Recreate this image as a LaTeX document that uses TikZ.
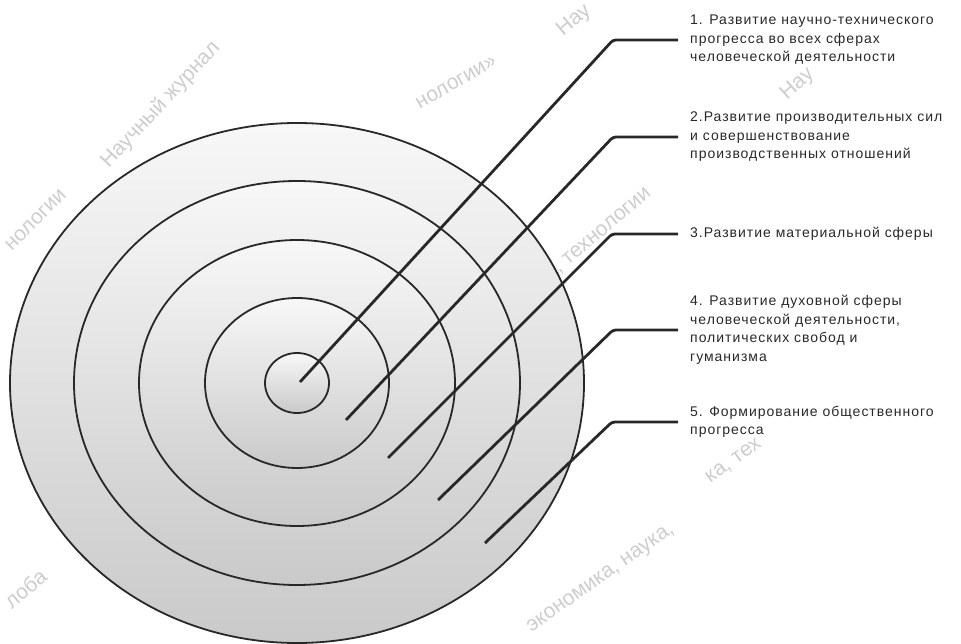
\documentclass[tikz,border=0pt]{standalone}
\usepackage{fontspec}
\setmainfont{Liberation Sans}
\usepackage{tikz}
\usetikzlibrary{positioning, calc}
\definecolor{ringline}{RGB}{40,40,40}
\definecolor{stagegrey}{RGB}{40,40,40}
\definecolor{markgrey}{RGB}{205,205,205}

\begin{document}
\begin{tikzpicture}[x=1pt, y=-1pt,
    ringfill/.style={draw=ringline, line width=1.8pt,
        top color=gray!6, bottom color=gray!42},
    leadline/.style={draw=ringline, line width=2.8pt, rounded corners=3pt},
    stagetext/.style={anchor=west, align=left, inner xsep=12pt,
        inner ysep=0pt, text=stagegrey,
        font=\fontsize{14}{18.5}\selectfont\addfontfeature{LetterSpace=7}},
    wmark/.style={anchor=south west, inner sep=0pt, text=markgrey,
        font=\fontsize{21}{21}\selectfont}]
    \useasboundingbox (0,0) rectangle (961,644);
    % watermark
    \node[wmark, rotate=47] (wm1) at (112,172) {Научный журнал};
    \node[wmark, rotate=40] (wm2) at (566,40) {Нау};
    \node[wmark, rotate=30] (wm3) at (420,110) {нологии»};
    \node[wmark, rotate=45] (wm4) at (12,252) {нологии};
    \node[wmark, rotate=42] (wm5) at (790,104) {Нау};
    \node[wmark, rotate=40] (wm6) at (520,312) {наука, технологии};
    \node[wmark, rotate=36] (wm7) at (712,486) {ка, тех};
    \node[wmark, rotate=35] (wm8) at (534,636) {экономика, наука,};
    \node[wmark, rotate=40] (wm9) at (12,610) {лоба};
    % rings
    \coordinate (C) at (297,383);
    \foreach \rx/\ry in {287/260, 223/202, 158/143, 92/85, 32/30}
        \path[ringfill] (C) ellipse [x radius=\rx, y radius=\ry];
    % ends and elbows
    \coordinate (e1) at (300,382);
    \coordinate (e2) at (346,420);
    \coordinate (e3) at (388,458);
    \coordinate (e4) at (438,500);
    \coordinate (e5) at (485,543);
    \coordinate (k1) at (613,40);
    \coordinate (k2) at (613,137);
    \coordinate (k3) at (612,234);
    \coordinate (k4) at (613,330);
    \coordinate (k5) at (612,422);
    % stages
    \node[stagetext] (lab1) at (678,40)
        {1. Развитие научно-технического\\прогресса во всех сферах\\человеческой деятельности};
    \node[stagetext] (lab2) at (678,137)
        {2.Развитие производительных сил\\и совершенствование\\производственных отношений};
    \node[stagetext] (lab3) at (678,234)
        {3.Развитие материальной сферы};
    \node[stagetext] (lab4) at (678,330)
        {4. Развитие духовной сферы\\человеческой деятельности,\\политических свобод и\\гуманизма};
    \node[stagetext] (lab5) at (678,422)
        {5. Формирование общественного\\прогресса};
    \foreach \i in {1,...,5}
        \draw[leadline] (e\i) -- (k\i) -- (lab\i.west);
\end{tikzpicture}
\end{document}
